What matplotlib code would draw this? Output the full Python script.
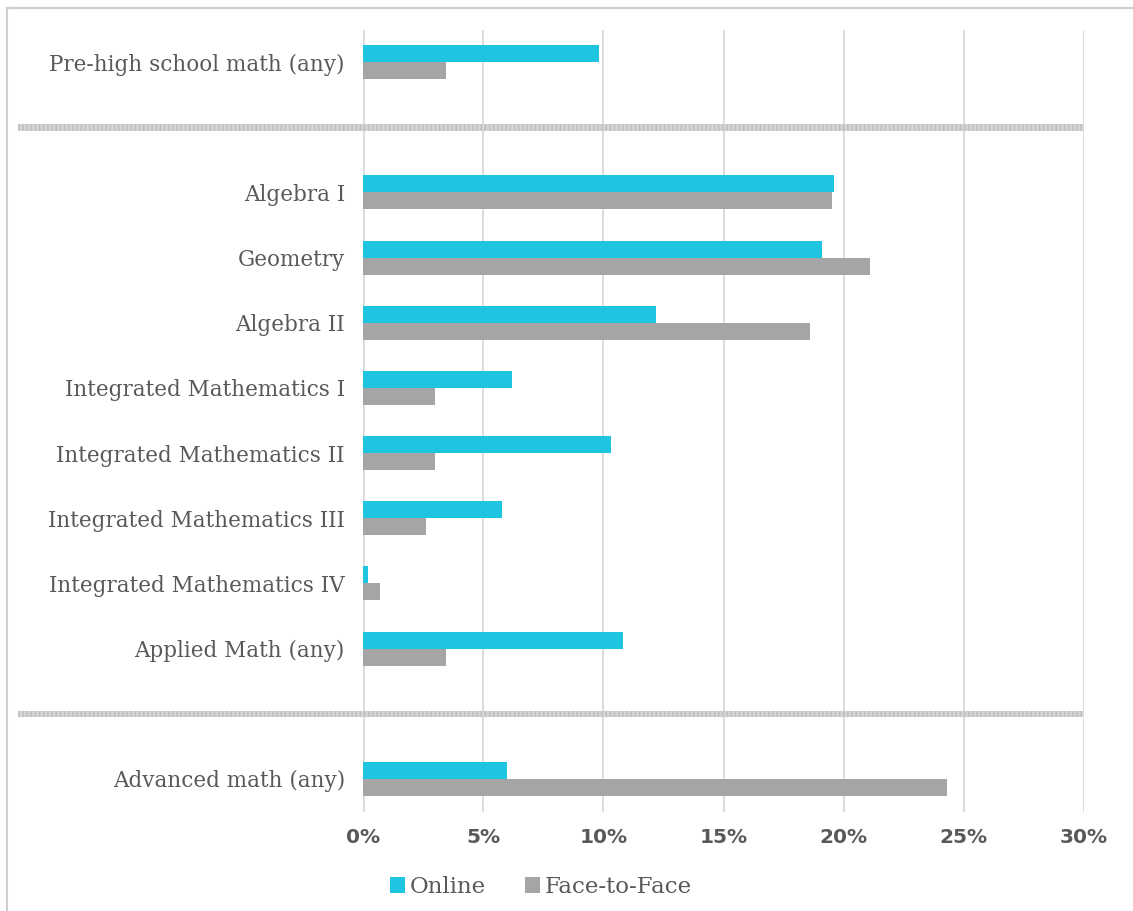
import numpy as np
import matplotlib.pyplot as plt
from matplotlib import patches
from matplotlib.lines import Line2D
import matplotlib.transforms as mtransforms

# data (share of students, %)
groups = [
    ['Pre-high school math (any)'],
    ['Algebra I', 'Geometry', 'Algebra II', 'Integrated Mathematics I',
     'Integrated Mathematics II', 'Integrated Mathematics III',
     'Integrated Mathematics IV', 'Applied Math (any)'],
    ['Advanced math (any)'],
]
online = [9.8, 19.6, 19.1, 12.2, 6.2, 10.3, 5.8, 0.2, 10.8, 6.0]
face_to_face = [3.45, 19.5, 21.1, 18.6, 3.0, 3.0, 2.6, 0.7, 3.45, 24.3]
xticks = [0, 5, 10, 15, 20, 25, 30]

CYAN = '#1FC4E0'
GRAY = '#A5A5A5'
TEXT = '#595959'
GRID = '#D9D9D9'

# positions: one empty slot between groups (holds the separator)
labels, ypos, seps = [], [], []
pos = 0
for gi, g in enumerate(groups):
    if gi > 0:
        seps.append(pos)
        pos += 1
    for name in g:
        labels.append(name)
        ypos.append(pos)
        pos += 1
ypos = np.array(ypos)

fig = plt.figure(figsize=(11.33, 9.11), dpi=100)
ax = fig.add_axes([0.3204, 0.1092, 0.6364, 0.8584])

h = 0.26
ax.barh(ypos - h / 2, online, height=h, color=CYAN, label='Online', zorder=3)
ax.barh(ypos + h / 2, face_to_face, height=h, color=GRAY, label='Face-to-Face', zorder=3)

ax.set_xlim(0, 30)
ax.set_ylim(pos - 0.5, -0.5)
ax.set_xticks(xticks)
ax.set_xticklabels([f'{t}%' for t in xticks], fontsize=14.5, fontweight='bold',
                   color=TEXT, family='DejaVu Sans')
ax.set_yticks(ypos)
ax.set_yticklabels(labels, fontsize=15.5, color=TEXT, family='DejaVu Serif')
ax.tick_params(axis='both', length=0)
ax.tick_params(axis='x', pad=12)
ax.tick_params(axis='y', pad=13)
ax.grid(axis='x', color=GRID, linewidth=1.3, zorder=0)
ax.axvline(0, color=GRID, linewidth=1.8, zorder=1)
for s in ax.spines.values():
    s.set_visible(False)

# hatched separators between groups
trans = mtransforms.blended_transform_factory(fig.transFigure, ax.transData)
for s in seps:
    rect = patches.Rectangle((18 / 1133, s - 0.05), (1083 - 18) / 1133, 0.1,
                             transform=trans, facecolor='#D4D4D4', edgecolor='#BDBDBD',
                             hatch='||||', linewidth=0, clip_on=False, zorder=2)
    ax.add_patch(rect)

# legend
leg = fig.legend(loc='center', bbox_to_anchor=(541 / 1133, 1 - 887 / 911), ncol=2,
                 frameon=False, handlelength=0.65, handleheight=0.65, handletextpad=0.2,
                 columnspacing=1.7, prop={'family': 'DejaVu Serif', 'size': 16.5})
for t in leg.get_texts():
    t.set_color(TEXT)

# outer frame (top and left edges)
fig.add_artist(Line2D([7 / 1133, 1], [1 - 8 / 911, 1 - 8 / 911], color='#CFCFCF', linewidth=1.5))
fig.add_artist(Line2D([7 / 1133, 7 / 1133], [0, 1 - 8 / 911], color='#CFCFCF', linewidth=1.5))

plt.savefig('out.png', dpi=100)
